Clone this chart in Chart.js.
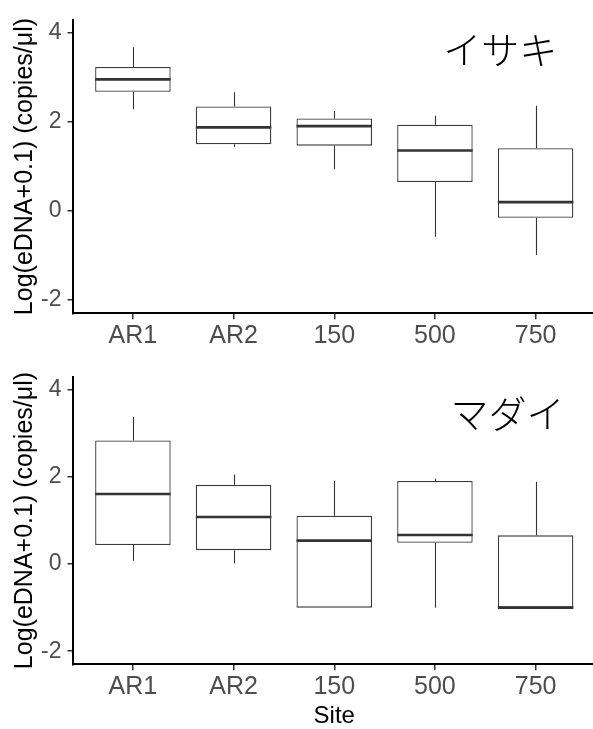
<!DOCTYPE html>
<html><head><meta charset="utf-8">
<script src="https://cdn.jsdelivr.net/npm/chart.js@4.4.0/dist/chart.umd.min.js"></script>
<style>
html,body{margin:0;padding:0;background:#fff;overflow:hidden;width:593px;height:729px;position:relative}
.panel{position:absolute;left:0;width:596px}
#p1{top:0;height:357px}
#p2{top:357px;height:372px}
canvas{display:block}
</style></head><body>
<div class="panel" id="p1"><canvas id="c1" width="596" height="357" style="width:596px;height:357px"></canvas></div>
<div class="panel" id="p2"><canvas id="c2" width="596" height="372" style="width:596px;height:372px"></canvas></div>
<script>
// ---- data ----
const sites = ['AR1', 'AR2', '150', '500', '750'];
const yTicks = [-2, 0, 2, 4];

const isakiLow  = [2.29, 1.44, 0.94, -0.58, -0.99];
const isakiQ1   = [2.68, 1.50, 1.47, 0.65, -0.15];
const isakiMed  = [2.96, 1.88, 1.91, 1.36, 0.20];
const isakiQ3   = [3.24, 2.35, 2.08, 1.94, 1.41];
const isakiHigh = [3.68, 2.67, 2.25, 2.14, 2.37];

const madaiLow  = [0.08, 0.02, -1.00, -1.00, -1.00];
const madaiQ1   = [0.44, 0.32, -1.00, 0.49, -1.00];
const madaiMed  = [1.61, 1.08, 0.54, 0.67, -1.00];
const madaiQ3   = [2.84, 1.82, 1.11, 1.91, 0.66];
const madaiHigh = [3.38, 2.06, 1.91, 1.96, 1.89];

const yTitle = 'Log(eDNA+0.1) (copies/μl)';
const xTitle = 'Site';

// ---- styling ----
const FONT = "'Liberation Sans', Arial, sans-serif";
const CJK = "'Noto Sans CJK JP', sans-serif";

function boxPlugin(low, med, high) {
  return {
    id: 'boxWhisker',
    afterDatasetsDraw(chart) {
      const {ctx, scales: {x, y}} = chart;
      const meta = chart.getDatasetMeta(0);
      const q = chart.data.datasets[0].data;
      ctx.save();
      ctx.strokeStyle = '#333';
      ctx.lineCap = 'butt';
      low.forEach((lo, i) => {
        const px = Math.round(x.getPixelForValue(i)) + 0.5;
        ctx.lineWidth = 1.1;
        ctx.beginPath();
        ctx.moveTo(px, y.getPixelForValue(high[i]));
        ctx.lineTo(px, y.getPixelForValue(q[i].y[1]));
        ctx.moveTo(px, y.getPixelForValue(q[i].y[0]));
        ctx.lineTo(px, y.getPixelForValue(lo));
        ctx.stroke();
        const bar = meta.data[i];
        const half = bar.width / 2;
        const my = y.getPixelForValue(med[i]);
        ctx.lineWidth = 2.6;
        ctx.beginPath();
        ctx.moveTo(bar.x - half, my);
        ctx.lineTo(bar.x + half, my);
        ctx.stroke();
      });
      ctx.restore();
    }
  };
}

function labelPlugin(text, xv, yv) {
  return {
    id: 'speciesLabel',
    afterDraw(chart) {
      const {ctx, scales: {x, y}} = chart;
      ctx.save();
      ctx.font = "300 38px " + CJK;
      ctx.fillStyle = '#000';
      ctx.textAlign = 'center';
      ctx.textBaseline = 'middle';
      ctx.fillText(text, x.getPixelForValue(xv), y.getPixelForValue(yv));
      ctx.restore();
    }
  };
}

function makeChart(id, q1, q3, low, med, high, name, lx, ly, padTop, xAxisH, showXTitle) {
  return new Chart(document.getElementById(id), {
    type: 'bar',
    data: {
      datasets: [{
        data: sites.map((s, i) => ({x: i, y: [q1[i], q3[i]]})),
        backgroundColor: '#ffffff',
        borderColor: '#3a3a3a',
        borderWidth: 1.3,
        borderSkipped: false,
        barPercentage: 0.75,
        categoryPercentage: 1
      }]
    },
    options: {
      responsive: false,
      animation: false,
      layout: {padding: {top: padTop, right: 0, left: 0, bottom: 0}},
      plugins: {legend: {display: false}, tooltip: {enabled: false}},
      scales: {
        x: {
          type: 'linear',
          min: -0.6, max: 4.6,
          offset: false,
          afterBuildTicks: ax => { ax.ticks = sites.map((s, i) => ({value: i})); },
          afterFit: ax => { ax.height = xAxisH; },
          grid: {display: true, drawOnChartArea: false, drawTicks: true, tickLength: 6, offset: false, color: '#333', lineWidth: 1.5},
          border: {display: true, color: '#000', width: 2},
          ticks: {color: '#4d4d4d', font: {size: 25, family: FONT}, padding: 2, maxRotation: 0, autoSkip: false,
                  callback: v => sites[v]},
          title: {display: showXTitle, text: xTitle, color: '#000', font: {size: 24, family: FONT, lineHeight: 1}, padding: {top: 0, bottom: 1}}
        },
        y: {
          min: -2.3, max: 4.3,
          afterBuildTicks: ax => { ax.ticks = yTicks.map(v => ({value: v})); },
          afterFit: ax => { ax.width = 72.5; },
          grid: {display: true, drawOnChartArea: false, drawTicks: true, tickLength: 5, color: '#333', lineWidth: 1.5},
          border: {display: true, color: '#000', width: 2},
          ticks: {color: '#4d4d4d', font: {size: 23, family: FONT}, padding: 6},
          title: {display: true, text: yTitle, color: '#000', font: {size: 25, family: FONT, lineHeight: 1}, padding: {top: 12.5, bottom: 0}}
        }
      }
    },
    plugins: [boxPlugin(low, med, high), labelPlugin(name, lx, ly)]
  });
}

makeChart('c1', isakiQ1, isakiQ3, isakiLow, isakiMed, isakiHigh, 'イサキ', 3.65, 3.62, 14, 43.7, false);
makeChart('c2', madaiQ1, madaiQ3, madaiLow, madaiMed, madaiHigh, 'マダイ', 3.72, 3.46, 8, 64.7, true);
</script>
</body></html>
